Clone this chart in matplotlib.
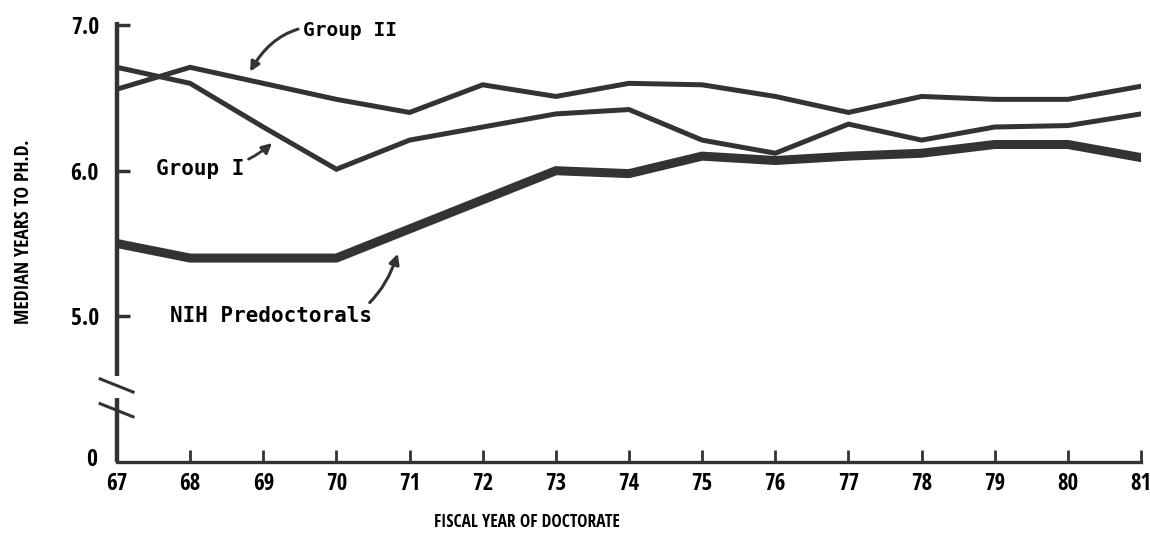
import matplotlib
matplotlib.use("Agg")
import matplotlib.pyplot as plt

plt.rcParams['font.family'] = ['Open Sans Condensed', 'DejaVu Sans']
plt.rcParams['font.weight'] = 'bold'

# fiscal year of doctorate
years = [67, 68, 69, 70, 71, 72, 73, 74, 75, 76, 77, 78, 79, 80, 81]
# median years to Ph.D.
group_ii = [6.56, 6.71, 6.60, 6.49, 6.40, 6.59, 6.51, 6.60, 6.59, 6.51, 6.40, 6.51, 6.49, 6.49, 6.58]
group_i = [6.71, 6.60, 6.30, 6.01, 6.21, 6.30, 6.39, 6.42, 6.21, 6.12, 6.32, 6.21, 6.30, 6.31, 6.39]
nih_predoc = [5.50, 5.40, 5.40, 5.40, 5.60, 5.80, 6.00, 5.98, 6.10, 6.07, 6.10, 6.12, 6.18, 6.18, 6.09]

# broken y axis: the "0" sits where 4.0 would be
ytick_vals = [4.0, 5.0, 6.0, 7.0]
ytick_labels = ['0', '5.0', '6.0', '7.0']

ink = '#333333'

fig = plt.figure(figsize=(11.5, 5.34), dpi=100)
ax = fig.add_axes([0.1017, 0.135, 0.8905, 0.818])

ax.plot(years, group_ii, color=ink, lw=3.6, solid_joinstyle='miter')
ax.plot(years, group_i, color=ink, lw=3.6, solid_joinstyle='miter')
ax.plot(years, nih_predoc, color=ink, lw=6.5, solid_joinstyle='miter')

ax.set_xlim(67, 81)
ax.set_ylim(4.0, 7.0)

# axes: left spine with a break, bottom spine
for s in ['top', 'right', 'left']:
    ax.spines[s].set_visible(False)
ax.spines['bottom'].set_linewidth(2.4)
ax.spines['bottom'].set_color(ink)
ax.plot([67, 67], [4.0, 4.44], color=ink, lw=3.2, clip_on=False, solid_capstyle='butt')
ax.plot([67, 67], [4.59, 7.02], color=ink, lw=3.2, clip_on=False, solid_capstyle='butt')
# break slashes
ax.plot([66.77, 67.22], [4.57, 4.48], color=ink, lw=2.2, clip_on=False)
ax.plot([66.77, 67.22], [4.40, 4.31], color=ink, lw=2.2, clip_on=False)

ax.set_xticks(years)
ax.set_xticklabels([str(y) for y in years], fontsize=16.5)
ax.set_yticks(ytick_vals[1:])
ax.set_yticklabels(ytick_labels[1:], fontsize=17)
ax.tick_params(axis='x', direction='in', length=9, width=2, color=ink, pad=7)
ax.tick_params(axis='y', direction='in', length=9, width=2.5, color=ink, pad=13)
ax.text(66.73, 4.01, ytick_labels[0], fontsize=17, ha='right', va='center')

fig.text(0.021, 0.566, 'MEDIAN YEARS TO PH.D.', rotation=90, fontsize=14,
         ha='center', va='center')
fig.text(0.458, 0.022, 'FISCAL YEAR OF DOCTORATE', fontsize=12.5, ha='center', va='center')

# annotations
mono = ['DejaVu Sans Mono']
ax.annotate('Group II', xy=(68.82, 6.68), xytext=(69.55, 6.96), fontsize=14,
            ha='left', va='center', family=mono,
            arrowprops=dict(arrowstyle='-|>', color=ink, lw=2.2,
                            connectionstyle='arc3,rad=0.4', shrinkA=2, shrinkB=0))
ax.annotate('Group I', xy=(69.12, 6.19), xytext=(68.14, 6.01), fontsize=15,
            ha='center', va='center', family=mono,
            arrowprops=dict(arrowstyle='-|>', color=ink, lw=2.0,
                            connectionstyle='arc3,rad=0.2', shrinkA=1, shrinkB=0))
ax.annotate('NIH Predoctorals', xy=(70.84, 5.43), xytext=(69.11, 5.0), fontsize=15,
            ha='center', va='center', family=mono,
            arrowprops=dict(arrowstyle='-|>', color=ink, lw=2.2,
                            connectionstyle='arc3,rad=0.5', shrinkA=1, shrinkB=0))

fig.savefig('out.png', dpi=100)
